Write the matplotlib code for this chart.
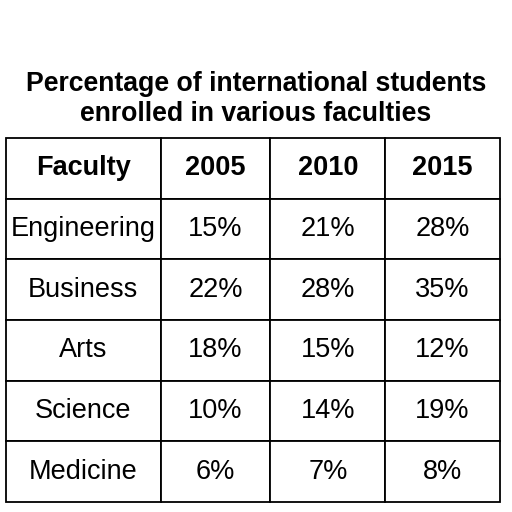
import matplotlib
matplotlib.use("Agg")
import matplotlib.pyplot as plt

plt.rcParams['font.family'] = ['Liberation Sans', 'DejaVu Sans']

title = "Percentage of international students\nenrolled in various faculties"
columns = ["Faculty", "2005", "2010", "2015"]
faculties = ["Engineering", "Business", "Arts", "Science", "Medicine"]
v2005 = ["15%", "22%", "18%", "10%", "6%"]
v2010 = ["21%", "28%", "15%", "14%", "7%"]
v2015 = ["28%", "35%", "12%", "19%", "8%"]

fig = plt.figure(figsize=(5.12, 5.12), dpi=100)
fig.patch.set_facecolor('white')
ax = fig.add_axes([6/512, 10/512, 494/512, 364/512])
ax.axis('off')

cells = [[f, a, b, c] for f, a, b, c in zip(faculties, v2005, v2010, v2015)]
widths = [155, 110, 115, 115]
tot = sum(widths)
tbl = ax.table(cellText=cells, colLabels=columns, cellLoc='center',
               colWidths=[w / tot for w in widths], bbox=[0, 0, 1, 1])
tbl.auto_set_font_size(False)
for (r, c), cell in tbl.get_celld().items():
    cell.set_linewidth(1.3)
    cell.set_edgecolor('black')
    cell.get_text().set_fontsize(19.5)
    if r == 0:
        cell.get_text().set_fontweight('bold')

fig.text(0.5, 1 - 99/512, title, ha='center', va='center', fontsize=19.2,
         fontweight='bold', linespacing=1.2)

fig.savefig("out.png", dpi=100)
